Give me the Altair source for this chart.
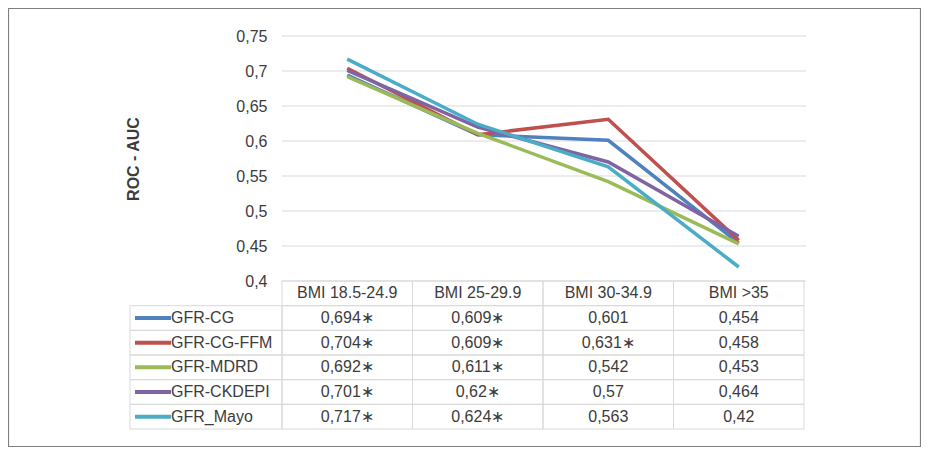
import altair as alt
import pandas as pd

categories = ["BMI 18.5-24.9", "BMI 25-29.9", "BMI 30-34.9", "BMI >35"]
series = ["GFR-CG", "GFR-CG-FFM", "GFR-MDRD", "GFR-CKDEPI", "GFR_Mayo"]
colors = ["#4F81BD", "#C0504D", "#9BBB59", "#8064A2", "#4BACC6"]

gfr_cg = [0.694, 0.609, 0.601, 0.454]
gfr_cg_ffm = [0.704, 0.609, 0.631, 0.458]
gfr_mdrd = [0.692, 0.611, 0.542, 0.453]
gfr_ckdepi = [0.701, 0.620, 0.570, 0.464]
gfr_mayo = [0.717, 0.624, 0.563, 0.420]

star_cg = [True, True, False, False]
star_cg_ffm = [True, True, True, False]
star_mdrd = [True, True, False, False]
star_ckdepi = [True, True, False, False]
star_mayo = [True, True, False, False]

y_ticks = [0.4, 0.45, 0.5, 0.55, 0.6, 0.65, 0.7, 0.75]

values = [gfr_cg, gfr_cg_ffm, gfr_mdrd, gfr_ckdepi, gfr_mayo]
stars = [star_cg, star_cg_ffm, star_mdrd, star_ckdepi, star_mayo]


def fmt(v):
    s = ("%.3f" % v).rstrip("0").rstrip(".")
    return s.replace(".", ",")


rows = []
for s, vals, st in zip(series, values, stars):
    for c, v, f in zip(categories, vals, st):
        rows.append({"series": s, "cat": c, "val": v,
                     "label": fmt(v) + ("\u2217" if f else "")})
df = pd.DataFrame(rows)

row_names = ["header"] + series
cells = pd.DataFrame([{"cat": c, "row": r} for r in row_names for c in categories])
header = pd.DataFrame({"cat": categories, "row": ["header"] * len(categories)})
legend_df = pd.DataFrame({"series": series})
frame_df = pd.DataFrame({"k": [0]})
grid_df = pd.DataFrame({"tick": y_ticks})

FONT = "Liberation Sans"
TXT = "#3c3c3c"
GRID = "#D9D9D9"

W, H = 522, 245

xscale = alt.Scale(domain=categories, paddingInner=0, paddingOuter=0)
yscale = alt.Scale(domain=[0.4, 0.75], zero=False, nice=False)
tscale = alt.Scale(domain=row_names, range=[245, 393], paddingInner=0, paddingOuter=0)
cscale = alt.Scale(domain=series, range=colors)
noview = alt.ViewBackground(stroke="transparent", strokeWidth=0)

gridlines = alt.Chart(grid_df).mark_rule(color=GRID, strokeWidth=1).encode(
    x=alt.value(0), x2=alt.value(W + 2),
    y=alt.Y("tick:Q", scale=yscale, axis=None),
)

lines = alt.Chart(df).mark_line(strokeWidth=3.5).encode(
    x=alt.X("cat:N", scale=xscale, bandPosition=0.5, axis=None),
    y=alt.Y("val:Q", scale=yscale,
            axis=alt.Axis(values=y_ticks, labelExpr="replace(format(datum.value, '.2~f'), '.', ',')",
                          domain=False, ticks=False, grid=False,
                          labelFont=FONT, labelFontSize=16, labelColor=TXT, labelPadding=15,
                          title="ROC - AUC", titleFont=FONT, titleFontSize=16, titleFontWeight="bold",
                          titleColor=TXT, titleX=-149, titleY=H / 2, titleBaseline="middle",
                          titleAngle=270)),
    color=alt.Color("series:N", scale=cscale, legend=None),
    order=alt.Order("cat_i:Q"),
).transform_calculate(cat_i="indexof(" + str(categories) + ", datum.cat)")

cell_rects = alt.Chart(cells).mark_rect(fillOpacity=0, stroke=GRID, strokeWidth=1).encode(
    x=alt.X("cat:N", scale=xscale, axis=None),
    y=alt.Y("row:N", scale=tscale, axis=None),
)

legend_rects = alt.Chart(legend_df).mark_rect(fillOpacity=0, stroke=GRID, strokeWidth=1).encode(
    x=alt.value(-152), x2=alt.value(0),
    y=alt.Y("series:N", scale=tscale, axis=None),
)

header_text = alt.Chart(header).mark_text(font=FONT, fontSize=16, color=TXT, baseline="middle").encode(
    x=alt.X("cat:N", scale=xscale, bandPosition=0.5, axis=None),
    y=alt.Y("row:N", scale=tscale, bandPosition=0.5, axis=None),
    text="cat:N",
)

value_text = alt.Chart(df).mark_text(font=FONT, fontSize=16, color=TXT, baseline="middle").encode(
    x=alt.X("cat:N", scale=xscale, bandPosition=0.5, axis=None),
    y=alt.Y("series:N", scale=tscale, bandPosition=0.5, axis=None),
    text="label:N",
)

legend_swatch = alt.Chart(legend_df).mark_rule(strokeWidth=4).encode(
    x=alt.value(-147), x2=alt.value(-111),
    y=alt.Y("series:N", scale=tscale, bandPosition=0.5, axis=None),
    color=alt.Color("series:N", scale=cscale, legend=None),
)

legend_text = alt.Chart(legend_df).mark_text(font=FONT, fontSize=16, color=TXT, align="left",
                                             baseline="middle").encode(
    x=alt.value(-111),
    y=alt.Y("series:N", scale=tscale, bandPosition=0.5, axis=None),
    text="series:N",
)

frame = alt.Chart(frame_df).mark_rect(fillOpacity=0, stroke="#808080", strokeWidth=1.2).encode(
    x=alt.value(-273.5), x2=alt.value(638.5), y=alt.value(-27.5), y2=alt.value(410.5),
)

chart = alt.layer(
    frame, gridlines, cell_rects, legend_rects, lines, header_text, value_text, legend_swatch, legend_text
).resolve_scale(y="independent").properties(
    width=W, height=H,
    background="white",
    view=noview,
    autosize=alt.AutoSizeParams(type="none"),
    padding={"left": 274, "top": 28, "right": 117, "bottom": 166},
).configure_view(stroke="transparent", strokeWidth=0).configure_axis(
    domain=False, ticks=False, grid=False
)

chart.save("out.html", embed_options={"renderer": "svg", "actions": False})
